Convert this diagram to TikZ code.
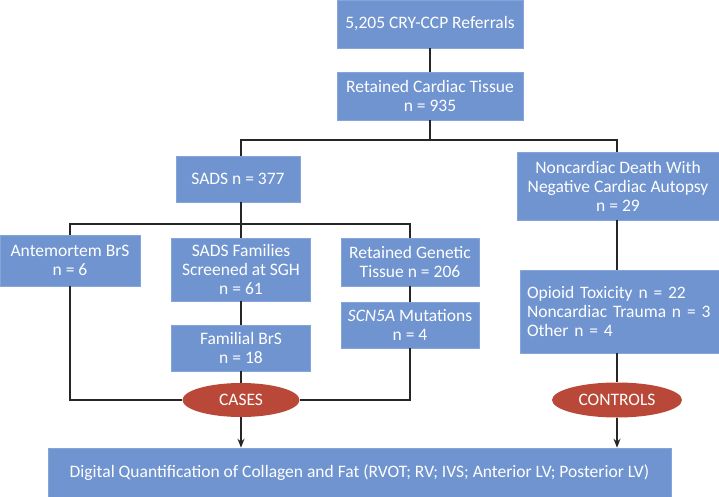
\documentclass[tikz,border=0pt]{standalone}
\usepackage{fontspec}
\setmainfont{Carlito}
\usetikzlibrary{arrows.meta,shapes.geometric}
\definecolor{boxblue}{RGB}{112,148,208}
\definecolor{ovalred}{RGB}{186,72,56}
\tikzset{
  flowbox/.style={rectangle, fill=boxblue, draw=boxblue!85!white, line width=0.6pt, text=white, align=center, inner sep=2pt, font=\fontsize{17.5}{19}\selectfont},
  oval/.style={ellipse, fill=ovalred, text=white, inner sep=0pt, font=\fontsize{17.5}{19}\selectfont},
  conn/.style={line width=1.2pt, black!85},
  arr/.style={conn, -{Stealth[length=9pt,width=7pt]}}
}
\begin{document}
\begin{tikzpicture}[x=1pt,y=-1pt]
\useasboundingbox (0,0) rectangle (719,497);
\node[flowbox, minimum width=186pt, minimum height=48pt] (top) at (430,24) {5,205 CRY-CCP Referrals};
\node[flowbox, minimum width=186pt, minimum height=48pt] (tissue) at (430,96) {Retained Cardiac Tissue\\n = 935};
\node[flowbox, minimum width=124pt, minimum height=46pt] (sads) at (238,179) {SADS n = 377};
\node[flowbox, minimum width=202pt, minimum height=68pt] (noncard) at (618,186) {Noncardiac Death With\\Negative Cardiac Autopsy\\n = 29};
\node[flowbox, minimum width=140pt, minimum height=51pt] (ante) at (70,260.5) {Antemortem BrS\\n = 6};
\node[flowbox, minimum width=139pt, minimum height=63pt] (fam) at (241,269.5) {SADS Families\\Screened at SGH\\n = 61};
\node[flowbox, minimum width=139pt, minimum height=46pt] (familial) at (241,348) {Familial BrS\\n = 18};
\node[flowbox, minimum width=138pt, minimum height=48pt] (genetic) at (410,262) {Retained Genetic\\Tissue n = 206};
\node[flowbox, minimum width=138pt, minimum height=46pt] (scn) at (410,325) {\textit{SCN5A} Mutations\\n = 4};
\node[flowbox, minimum width=199pt, minimum height=83pt, align=left, text width=185pt] (opioid) at (619.5,311.5) {Opioid Toxicity n = 22\\Noncardiac Trauma n = 3\\Other n = 4};
\node[oval, minimum width=117pt, minimum height=34pt] (cases) at (241,400) {CASES};
\node[oval, minimum width=130pt, minimum height=35pt] (controls) at (617,400) {CONTROLS};
\node[flowbox, minimum width=623pt, minimum height=50pt] (bottom) at (359.5,473) {Digital Quantification of Collagen and Fat (RVOT; RV; IVS; Anterior LV; Posterior LV)};
\coordinate (bus1) at (430,140);
\coordinate (bus2) at (241,224);
\draw[conn] (top) -- (tissue);
\draw[conn] (tissue.south) -- (bus1);
\draw[conn] (sads.north -| bus2) |- (bus1) -| (noncard.north -| controls);
\draw[conn] (sads.south -| bus2) -- (bus2);
\draw[conn] (ante.north) |- (bus2) -| (genetic.north);
\draw[conn] (bus2) -- (fam.north);
\draw[conn] (fam) -- (familial);
\draw[conn] (familial) -- (cases);
\draw[conn] (genetic) -- (scn);
\draw[conn] (ante.south) |- (cases.west);
\draw[conn] (scn.south) |- (cases.east);
\draw[conn] (noncard.south -| controls) -- (opioid.north -| controls);
\draw[conn] (opioid.south -| controls) -- (controls.north);
\draw[arr] (cases.south) -- (bottom.north -| cases);
\draw[arr] (controls.south) -- (bottom.north -| controls);
\end{tikzpicture}
\end{document}
